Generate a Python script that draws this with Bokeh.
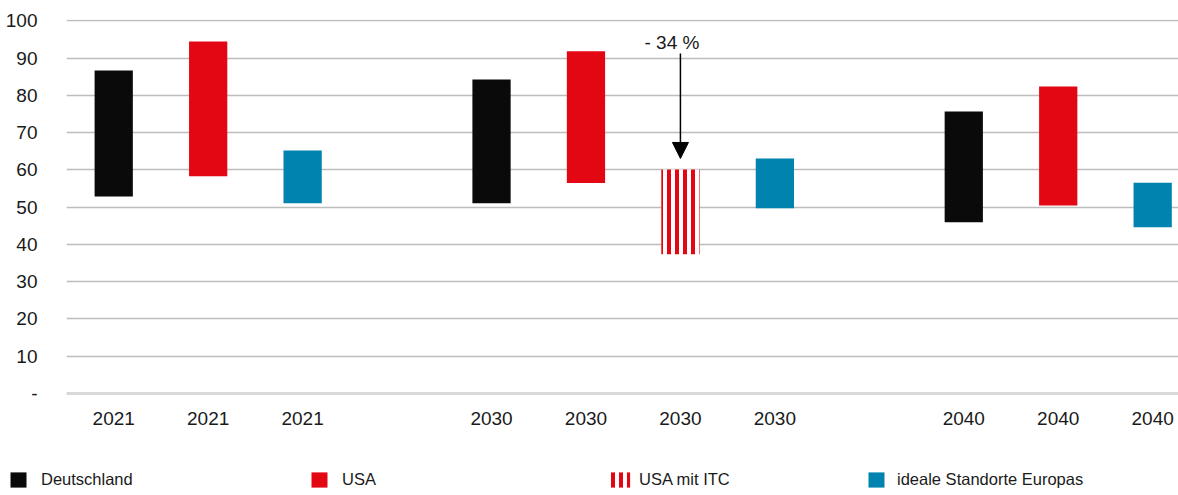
from bokeh.plotting import figure
from bokeh.layouts import column
from bokeh.models import (ColumnDataSource, Range1d, FixedTicker, Legend, LegendItem,
                          Arrow, NormalHead, Label)
from bokeh.embed import file_html
from bokeh.resources import INLINE

# ---------------- data ----------------
years = ["2021", "2021", "2021",
         "2030", "2030", "2030", "2030",
         "2040", "2040", "2040"]
series = ["Deutschland", "USA", "ideale Standorte Europas",
          "Deutschland", "USA", "USA mit ITC", "ideale Standorte Europas",
          "Deutschland", "USA", "ideale Standorte Europas"]
low = [52.9, 58.3, 51.1,
       51.1, 56.5, 37.4, 49.7,
       46.0, 50.5, 44.6]
high = [86.7, 94.5, 65.2,
        84.3, 91.9, 60.1, 63.1,
        75.7, 82.4, 56.6]

series_names = ["Deutschland", "USA", "USA mit ITC", "ideale Standorte Europas"]
series_colors = ["#0a0a0a", "#e30613", "#e30613", "#0083ae"]

y_ticks = [0, 10, 20, 30, 40, 50, 60, 70, 80, 90, 100]
y_tick_labels = ["-", "10", "20", "30", "40", "50", "60", "70", "80", "90", "100"]

annotation_text = "- 34 %"
annotation_from = 91.3
annotation_to = 63.1
annotation_label_y = 94.2

# ---------------- layout ----------------
FONT = "Liberation Sans"

pos = []
slot = 0
prev = None
for yr in years:
    if prev is not None and yr != prev:
        slot += 1
    pos.append(slot)
    slot += 1
    prev = yr

W = 1178
H_MAIN, H_LEG = 443, 52
BL, BR, BT, BB = 66, 0, 19, 50
frame_w = W - BL - BR

p = figure(width=W, height=H_MAIN,
           x_range=Range1d(-0.5, -0.5 + frame_w / 94.45),
           y_range=Range1d(0, 100.4),
           output_backend="svg", toolbar_location=None,
           min_border_left=BL, min_border_right=BR,
           min_border_top=BT, min_border_bottom=BB)

p.outline_line_color = None
p.background_fill_color = "white"
p.border_fill_color = "white"


def bar_style(name, color):
    if name == "USA mit ITC":
        return dict(fill_color="white", line_color=None,
                    hatch_pattern="vertical_line", hatch_color=color,
                    hatch_scale=8, hatch_weight=4)
    return dict(fill_color=color, line_color=None)


sources = {}
for name, color in zip(series_names, series_colors):
    idx = [i for i, s in enumerate(series) if s == name]
    src = ColumnDataSource(dict(x=[pos[i] for i in idx],
                                top=[high[i] for i in idx],
                                bottom=[low[i] for i in idx]))
    sources[name] = src
    p.vbar(x="x", top="top", bottom="bottom", width=0.405, source=src,
           **bar_style(name, color))

# axes
p.yaxis.ticker = FixedTicker(ticks=y_ticks)
p.yaxis.major_label_overrides = {t: l for t, l in zip(y_ticks, y_tick_labels)}
p.yaxis.axis_line_color = None
p.yaxis.major_tick_line_color = None
p.yaxis.minor_tick_line_color = None
p.yaxis.major_label_standoff = 23
p.yaxis.major_label_text_font = FONT
p.yaxis.major_label_text_font_size = "19px"
p.yaxis.major_label_text_color = "#1a1a1a"

p.xaxis.ticker = FixedTicker(ticks=pos)
p.xaxis.major_label_overrides = {x: y for x, y in zip(pos, years)}
p.xaxis.axis_line_color = "#d9d9d9"
p.xaxis.axis_line_width = 3
p.xaxis.major_tick_line_color = None
p.xaxis.minor_tick_line_color = None
p.xaxis.major_label_standoff = 12
p.xaxis.major_label_text_font = FONT
p.xaxis.major_label_text_font_size = "19px"
p.xaxis.major_label_text_color = "#1a1a1a"

p.xgrid.grid_line_color = None
p.ygrid.ticker = FixedTicker(ticks=y_ticks)
p.ygrid.grid_line_color = "#bdbdbd"
p.ygrid.grid_line_width = 1.4

# annotation
itc_x = pos[series.index("USA mit ITC")]
p.add_layout(Arrow(x_start=itc_x, y_start=annotation_from, x_end=itc_x, y_end=annotation_to,
                   line_color="black", line_width=1.5,
                   end=NormalHead(size=16, fill_color="black", line_color="black")))
p.add_layout(Label(x=itc_x - 0.09, y=annotation_label_y, text=annotation_text,
                   text_align="center", text_baseline="middle",
                   text_font=FONT, text_font_size="19px", text_color="#1a1a1a"))

# ---------------- legend strip ----------------
# same series drawn out of view; only their legend entries are shown
lg = figure(width=W, height=H_LEG, x_range=Range1d(100, 101), y_range=Range1d(200, 201),
            output_backend="svg", toolbar_location=None,
            x_axis_location=None, y_axis_location=None,
            min_border=0)
lg.outline_line_color = None
lg.xgrid.visible = False
lg.ygrid.visible = False
try:
    lg.frame_align = False
    p.frame_align = False
except AttributeError:
    pass

legend_x = [8, 309, 608, 866]
legend_glyph_w = [20, 20, 24, 20]
legend_standoff = [13, 13, 7, 11]
for name, color, lx, gw, so in zip(series_names, series_colors, legend_x,
                                   legend_glyph_w, legend_standoff):
    r = lg.vbar(x="x", top="top", bottom="bottom", width=0.4, source=sources[name],
                **bar_style(name, color))
    leg = Legend(items=[LegendItem(label=name, renderers=[r])],
                 location=(lx, 6), orientation="horizontal",
                 padding=0, margin=0, border_line_color=None,
                 background_fill_alpha=0,
                 glyph_width=gw, glyph_height=19,
                 label_standoff=so, label_height=19,
                 label_text_font=FONT, label_text_font_size="16.5px",
                 label_text_color="#1a1a1a")
    lg.add_layout(leg)

layout = column(p, lg, spacing=0)
open("out.html", "w").write(file_html(layout, INLINE))
